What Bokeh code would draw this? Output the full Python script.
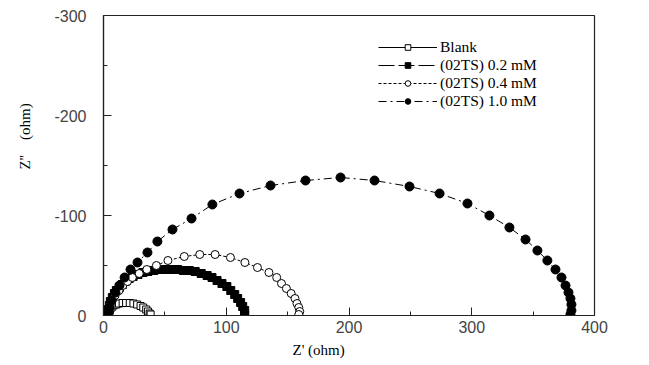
from bokeh.plotting import figure
from bokeh.models import Range1d, FixedTicker, Legend, LegendItem, Title
from bokeh.embed import file_html
from bokeh.resources import INLINE

# ---- data (Z' , Z'' in ohm) ----
blank_x = [4.4, 5.2, 6.6, 8.2, 10.4, 12.6, 15.6, 18.4, 21.4, 24.4, 27.4, 30.2, 32.4, 34.8, 36.2, 37.6, 38.4]
blank_y = [-2, -5, -8, -10, -11, -12, -12.5, -12.5, -12.5, -12, -11, -9.5, -8, -6, -4, -2, -1]

c02_x = [4.0, 4.0, 4.8, 5.6, 7.2, 8.9, 10.5, 12.9, 15.3, 17.7, 20.9, 24.1, 28.1, 32.2, 36.2, 41.0, 45.8, 50.7,
         55.5, 60.3, 65.1, 69.9, 74.7, 79.6, 84.4, 88.4, 92.5, 96.5, 100.5, 103.7, 106.9, 109.3, 111.7, 113.4, 115.0, 115.0]
c02_y = [-2, -6, -10, -14, -18, -22, -25, -28, -31, -34, -37, -39, -41, -43, -44, -45, -46, -46,
         -46, -46, -45, -45, -44, -42, -40, -38, -35, -32, -29, -25, -21, -17, -13, -9, -5, -1]

c04_x = [3.9, 4.7, 5.5, 7.0, 9.4, 12.6, 15.7, 19.6, 23.5, 29.1, 35.3, 43.1, 52.5, 65.8, 78.4, 90.9, 103.4,
         115.2, 125.4, 134.8, 141.1, 145.0, 149.0, 152.9, 156.0, 157.6, 159.1, 159.9, 159.1]
c04_y = [-2, -6, -10, -15, -20, -25, -30, -34, -38, -42, -46, -50, -55, -59, -61, -61, -58,
         -53, -48, -43, -38, -32, -27, -22, -17, -12, -8, -4, -1]

c10_x = [4.0, 4.9, 6.6, 9.7, 13.0, 17.2, 22.0, 27.7, 35.8, 43.9, 56.2, 71.7, 88.7, 110.8, 136.1, 164.6, 193.1,
         220.8, 249.3, 273.8, 296.5, 314.4, 330.7, 343.8, 353.5, 361.6, 368.2, 373.1, 376.4, 378.8, 380.4, 381.2, 381.2, 380.4]
c10_y = [-2, -8, -15, -23, -30, -38, -46, -53, -63, -74, -86, -97, -111, -122, -130, -135, -138,
         -135, -129, -122, -112, -100, -88, -76, -65, -55, -46, -38, -30, -23, -17, -11, -5, -1]

labels = ["Blank", "(02TS) 0.2 mM", "(02TS) 0.4 mM", "(02TS) 1.0 mM"]
x_ticks = [0, 100, 200, 300, 400]
x_minor = [50, 150, 250, 350]
y_ticks = [-300, -200, -100, 0]
y_minor = [-250, -150, -50]

p = figure(width=645, height=364, x_range=Range1d(0, 400), y_range=Range1d(0, -300),
           output_backend="svg", toolbar_location=None,
           min_border_left=103, min_border_right=51, min_border_top=15, min_border_bottom=49)
p.xgrid.visible = False
p.ygrid.visible = False
p.background_fill_color = "white"
p.border_fill_color = "white"
p.outline_line_color = "#222222"
p.outline_line_width = 1.2

for ax in (p.xaxis[0], p.yaxis[0]):
    ax.axis_line_color = "#222222"
    ax.axis_line_width = 1.2
    ax.major_tick_in = 8
    ax.major_tick_out = 0
    ax.minor_tick_in = 4
    ax.minor_tick_out = 0
    ax.major_tick_line_color = "#222222"
    ax.minor_tick_line_color = "#222222"
    ax.major_label_text_font = "Liberation Sans"
    ax.major_label_text_font_size = "16px"
    ax.major_label_text_color = "#444444"
p.xaxis.ticker = FixedTicker(ticks=x_ticks, minor_ticks=x_minor)
p.yaxis.ticker = FixedTicker(ticks=y_ticks, minor_ticks=y_minor)
p.yaxis.major_label_overrides = {t: str(t) for t in y_ticks}
p.xaxis.major_label_standoff = 5
p.yaxis.major_label_standoff = 17

# series
l1 = p.line(c02_x, c02_y, line_color="black", line_width=1, line_dash="16 4")
s1 = p.scatter(c02_x, c02_y, marker="square", size=8, fill_color="black", line_color="black")
l0 = p.line(blank_x, blank_y, line_color="black", line_width=1)
s0 = p.scatter(blank_x, blank_y, marker="square", size=7, fill_color="white", line_color="black", line_width=1)
l2 = p.line(c04_x, c04_y, line_color="black", line_width=1, line_dash="3 2")
s2 = p.scatter(c04_x, c04_y, marker="circle", size=8, fill_color="white", line_color="black", line_width=1)
l3 = p.line(c10_x, c10_y, line_color="black", line_width=1, line_dash="8 4 2 4")
s3 = p.scatter(c10_x, c10_y, marker="circle", size=9, fill_color="black", line_color="black")

legend = Legend(items=[LegendItem(label=labels[0], renderers=[l0, s0]),
                       LegendItem(label=labels[1], renderers=[l1, s1]),
                       LegendItem(label=labels[2], renderers=[l2, s2]),
                       LegendItem(label=labels[3], renderers=[l3, s3])],
                location=(275, 205))
legend.background_fill_alpha = 0
legend.border_line_alpha = 0
legend.padding = 0
legend.margin = 0
legend.spacing = 0
legend.label_height = 18
legend.glyph_height = 14
legend.glyph_width = 59
legend.label_standoff = 3
legend.label_text_font = "Liberation Serif"
legend.label_text_font_size = "15.5px"
legend.label_text_color = "black"
p.add_layout(legend)

xt = Title(text="Z'  (ohm)", align="left", offset=189, standoff=8,
           text_font="Liberation Serif", text_font_size="15px", text_font_style="normal",
           text_color="black")
p.add_layout(xt, "below")
yt = Title(text="Z''\u00a0\u00a0\u00a0\u00a0(ohm)", align="left", offset=146, standoff=33,
           vertical_align="top",
           text_font="Liberation Serif", text_font_size="15px", text_font_style="normal",
           text_color="black")
p.add_layout(yt, "left")

open("out.html", "w").write(file_html(p, INLINE))
